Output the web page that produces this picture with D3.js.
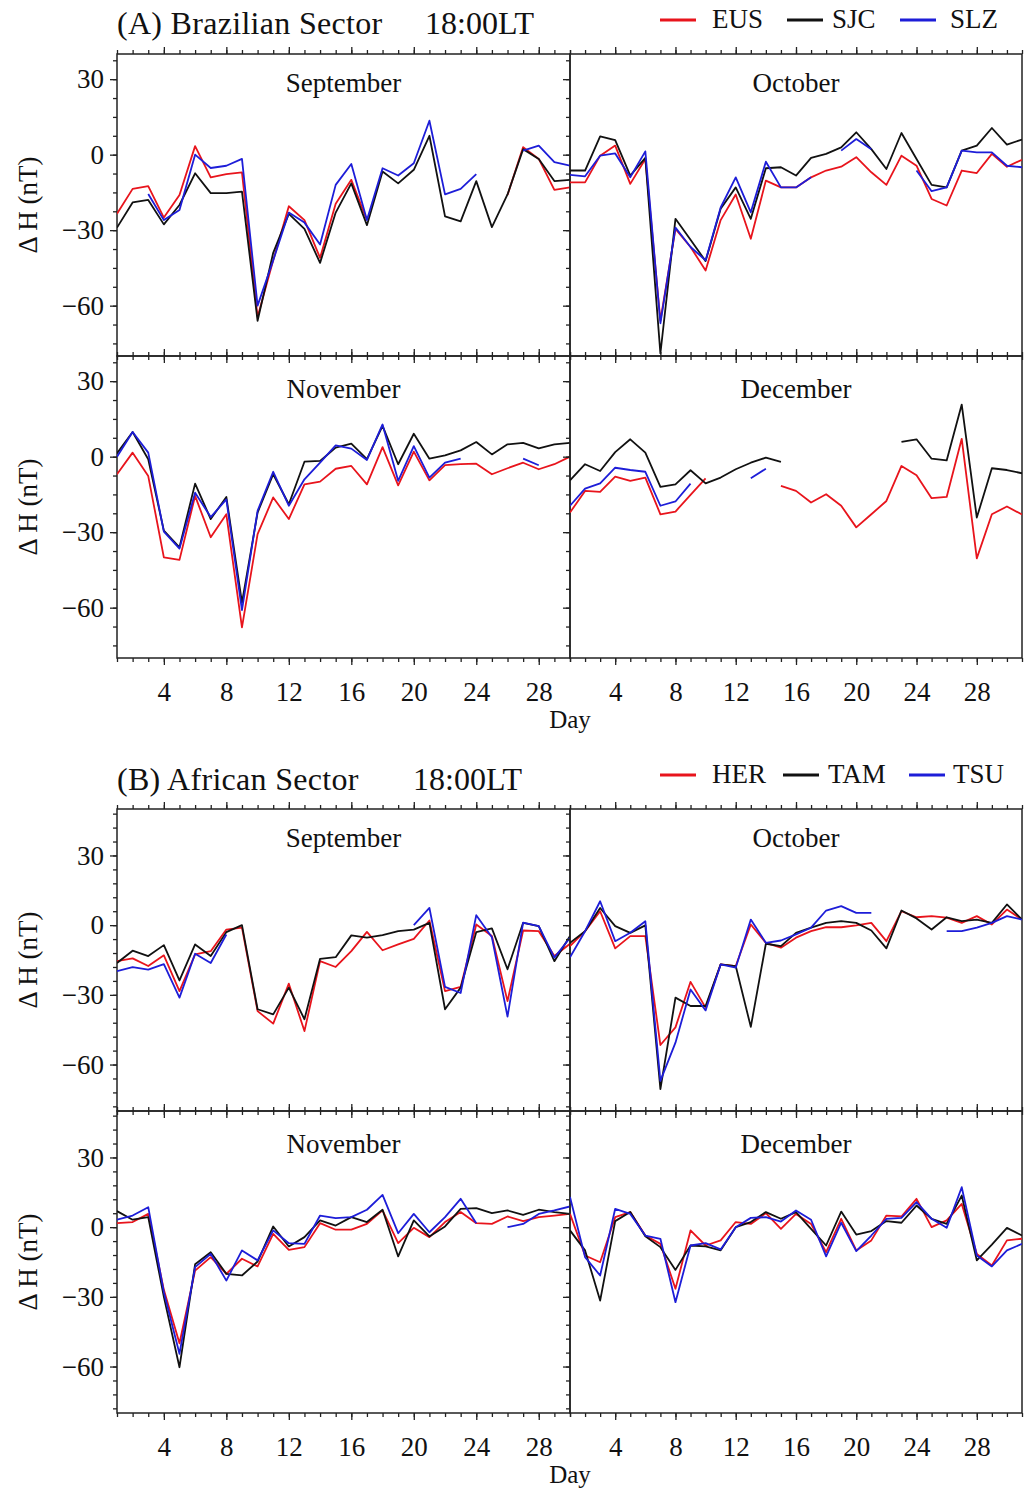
<!DOCTYPE html>
<html>
<head>
<meta charset="utf-8">
<script src="https://cdn.jsdelivr.net/npm/d3@7"></script>
<style>
  body { margin: 0; background: #fff; }
  svg text { font-family: 'Liberation Serif', 'Times New Roman', serif; fill: #111; }
</style>
</head>
<body>
<svg id="chart" width="1024" height="1492"></svg>
<script>
// ---- data (nT), one value per day, null = no data ----
// (A) Brazilian sector
const eusSep = [-23.5, -13.6, -12.5, -25, -16, 3.4, -9, -7.7, -7, -64.5, -42, -20.5, -26, -41, -19.5, -10, -26, null, null, null, null, null, null, null, null, -16, 3, -1.7, -14, -13]
const sjcSep = [-29, -19, -18, -27.7, -20, -7.4, -15.3, -15.3, -14.7, -66, -39, -23.5, -29.5, -43, -23, -11.4, -28, -6.7, -11.4, -6, 7.5, -24.5, -26.5, -10.5, -28.8, -15.8, 2.2, -1.7, -10.5, -10]
const slzSep = [null, null, -15.6, -26, -22, 0, -5.3, -4.4, -1.7, -60, -42, -23, -27, -35.7, -12, -3.7, -26, -5.4, -8.3, -3.4, 13.5, -15.8, -13.6, -7.7, null, null, 1.6, 3.6, -3, -4.4]

const eusOct = [-11, -11, -0.4, 3.6, -11.6, -1.7, -66, -29.5, -36.7, -46, -26, -15.8, -33.4, -10.3, -13, -13, -9, -6.3, -4.8, -1, -7, -12, -0.4, -4.4, -17.6, -20.2, -6.3, -7.3, 0.3, -4.8, -2]
const sjcOct = [-6.3, -6.3, 7.3, 5.8, -8.3, -1.3, -79, -25.5, -33.8, -42.3, -21.5, -13, -25.5, -5.4, -5, -8.3, -1.3, 0.3, 2.9, 8.9, 2.2, -5.7, 8.6, -1.7, -12, -13, 1.6, 3.6, 10.6, 4, 6]
const slzOct = [-8, -8.6, -0.4, 0.5, -9, 1.3, -67, -29, -36.7, -42, -21, -9, -22.9, -2.8, -13, -13, -9, null, 1.6, 6.2, 2.2, null, null, -6.3, -14.5, -13, 1.6, 0.9, 0.9, -4.4, -5]

const eusNov = [-7, 1.6, -7.7, -40, -41, -15.6, -32, -22.9, -67.8, -30.8, -16.2, -24.8, -11, -9.9, -4.8, -3.7, -11, 3.8, -11.4, 2, -9.4, -3.4, -3, -2.8, -7, -4.6, -2.4, -5, -3, 0]
const sjcNov = [1.3, 9.8, -1, -29.4, -36, -10.7, -24.8, -16, -58, -22.2, -7, -18.9, -2, -1.7, 3.6, 5.2, -1, 12.2, -3, 9.1, -0.8, 0.5, 2.5, 5.8, 0.9, 4.9, 5.5, 3.3, 4.9, 5.5]
const slzNov = [0, 9.8, 1.6, -29.8, -36.5, -14.3, -24, -17, -61, -21.5, -6, -19.5, -9, -2.4, 4.5, 3.2, -1.3, 12.8, -9.6, 4.2, -8.3, -2.4, -0.8, null, null, null, -0.8, -3.4, null, null]

const eusDec = [-22.2, -13.6, -14, -7.9, -9.6, -8.3, -22.9, -21.8, -15.2, -8.6, null, null, null, null, -11.6, -13.6, -18.2, -14.9, -19.5, -28.1, -22.9, -17.6, -3.7, -7.4, -16.5, -16, 7.1, -40.4, -22.9, -19.8, -23]
const sjcDec = [-9.4, -3, -5.7, 1.8, 6.9, 1.6, -12, -11, -5.4, -10.6, -8.3, -5, -2.4, -0.4, -2.1, null, null, null, null, null, null, null, 5.9, 6.9, -0.8, -1.5, 20.7, -24.2, -4.6, -5.3, -6.6]
const slzDec = [-19.5, -12.7, -10.6, -4.4, -5.3, -6, -19.5, -17.8, -10.7, null, null, null, -8.6, -4.8, null, null, null, null, null, null, null, null, null, null, null, null, null, null, null, null, null]

// (B) African sector
const herSep = [-15.5, -14.3, -17.6, -13, -28.4, -12.6, -11.2, -1.9, -1.1, -37, -42.4, -25.2, -45.6, -15.5, -18, -11.2, -2.9, -10.8, -8.3, -5.9, 2, -28.4, -26.6, 0.3, -4.7, -32.7, -2.3, -2.6, -13.3, -8]
const tamSep = [-16.3, -11, -13.3, -8.6, -23.8, -8.3, -13.3, -3, 0, -36.2, -38.4, -26.9, -40.5, -14.5, -13.8, -4.4, -5.4, -4.3, -2.6, -1.9, 1, -36.2, -26.9, -3, -1.4, -19, 1, -0.4, -15.5, -4.7]
const tsuSep = [-19.8, -18.1, -19.1, -16.8, -31.2, -12.3, -16.3, -4, null, null, null, null, null, null, null, null, null, null, null, 0, 7.4, -26.6, -29.2, 4.3, -5.2, -39.4, 1.1, -0.4, -14, -5.4]

const herOct = [-9, -2.6, 6, -10, -4.7, -4.7, -51.6, -44, -24.4, -35.5, -16.9, -17.6, 0.3, -7.6, -9.7, -5.4, -2.6, -0.9, -0.9, -0.1, 1, -6.9, 6, 3.4, 3.9, 3.2, 1, 3.9, 0.3, 6.7, 2.4]
const tamOct = [-7.6, -2.6, 7.4, -0.4, -3.3, -0.1, -70.6, -31.2, -34.8, -34.8, -16.9, -17.6, -43.8, -8, -9, -3.3, -1.1, 1, 1.7, 1, -2.3, -10, 6.3, 2.9, -1.9, 3.4, 1.7, 2.4, 1, 8.9, 2.4]
const tsuOct = [-13.8, -2.6, 10.3, -6.9, -3.3, 1.7, -67, -50.6, -27.7, -36.7, -16.9, -18.3, 2.4, -7.6, -6.6, -4, -1.1, 6.3, 8.2, 5.3, 5.3, null, null, null, null, -2.6, -2.6, -1.1, 1, 3.9, 2.4]

const herNov = [1.7, 2.2, 5.7, -27, -50, -18.7, -12.9, -20.1, -13.6, -16.9, -2.9, -9.8, -8.6, 1.7, -1.1, -1.1, 1.4, 7.2, -6.9, -0.3, -4.3, 2.2, 6.5, 1.7, 1.4, 4.6, 2.6, 4.3, 5, 5.7]
const tamNov = [6.9, 3.2, 4.3, -30, -60.3, -16, -10.8, -20.1, -20.8, -14.8, 0.3, -8.3, -4.3, 2.9, 0.7, 4.3, 2.2, 7.5, -12.6, 2.9, -4, 0.3, 7.9, 8.2, 6, 7.2, 5.3, 7.5, 6.5, 5.7]
const tsuNov = [3.2, 5, 8.6, -28, -54.5, -17.2, -11.5, -23, -10, -14.3, -1.4, -6.9, -7.2, 5, 3.9, 4.3, 7.5, 13.9, -2.6, 5.7, -2.2, 4.3, 12.2, 1.7, null, 0, 1.4, 5.7, 7.2, 8.9]

const herDec = [5.7, -12.2, -15.1, 4.3, 6.5, -3.6, -7.2, -26.5, -1.4, -7.9, -5.7, 2.2, 1.4, 6, -0.7, 5.7, 1.4, -10.8, 3.6, -10, -5.7, 5, 4.6, 12.2, 0, 2.9, 10, -11.5, -16.5, -5.7, -5]
const tamDec = [-1.4, -10, -31.6, 2.6, 6.5, -3.9, -8.6, -18.4, -7.9, -8.3, -10, 0, 2.2, 6.5, 3.6, 6.5, -0.7, -7.9, 6.7, -3.2, -1.7, 2.6, 1.9, 9.3, 3.6, 1.4, 13.6, -14.3, -7.5, -0.3, -3.6]
const tsuDec = [13, -12.9, -20.8, 7.9, 5.7, -3.6, -5, -32.3, -7.9, -6.9, -9.6, 0, 4, 4.3, 2.4, 7.2, 3.2, -12.6, 1.9, -10.3, -3.6, 3.6, 4, 10.8, 3.6, -0.3, 17.2, -12.2, -16.9, -10, -7.2]

const monthNames = ['September', 'October', 'November', 'December']
const dayTicks = [4, 8, 12, 16, 20, 24, 28]
const yTicks = [-60, -30, 0, 30]
const colors = ['#e8141c', '#111111', '#1d1dd8']

const sectors = [
  {
    title: '(A) Brazilian Sector', time: '18:00LT', stations: ['EUS', 'SJC', 'SLZ'],
    yDomain: [-80, 40], minorStep: 7.5,
    series: [[eusSep, sjcSep, slzSep], [eusOct, sjcOct, slzOct], [eusNov, sjcNov, slzNov], [eusDec, sjcDec, slzDec]]
  },
  {
    title: '(B) African Sector', time: '18:00LT', stations: ['HER', 'TAM', 'TSU'],
    yDomain: [-80, 50], minorStep: 6,
    series: [[herSep, tamSep, tsuSep], [herOct, tamOct, tsuOct], [herNov, tamNov, tsuNov], [herDec, tamDec, tsuDec]]
  }
]

// ---- layout ----
const svg = d3.select('#chart')
const cols = [[117, 570], [570, 1022]]
const layout = [
  { top: 54, mid: 356, bottom: 658, titleY: 34, legendY: 20, timeX: 425,
    legendX: [660, 787, 900], textX: [712, 832, 950] },
  { top: 809, mid: 1111, bottom: 1413, titleY: 790, legendY: 775, timeX: 413,
    legendX: [660, 783, 909], textX: [712, 828, 953] }
]

sectors.forEach((sec, si) => {
  const L = layout[si]
  const g = svg.append('g')

  g.append('text').attr('x', 117).attr('y', L.titleY)
    .attr('font-size', 32).attr('letter-spacing', 0.3).text(sec.title)
  g.append('text').attr('x', L.timeX).attr('y', L.titleY)
    .attr('font-size', 32).text(sec.time)

  // legend
  sec.stations.forEach((name, k) => {
    const lx = L.legendX[k]
    g.append('line')
      .attr('x1', lx).attr('x2', lx + 36)
      .attr('y1', L.legendY).attr('y2', L.legendY)
      .attr('stroke', colors[k]).attr('stroke-width', 3)
    g.append('text').attr('x', L.textX[k]).attr('y', L.legendY + 8)
      .attr('font-size', 27).text(name)
  })

  const rows = [[L.top, L.mid], [L.mid, L.bottom]]

  sec.series.forEach((trio, mi) => {
    const col = cols[mi % 2]
    const row = rows[Math.floor(mi / 2)]
    const nDays = trio[0].length
    const x = d3.scaleLinear().domain([1, nDays]).range(col)
    const y = d3.scaleLinear().domain(sec.yDomain).range([row[1], row[0]])
    const panel = g.append('g')
    const clipId = 'clip' + si + mi

    panel.append('clipPath').attr('id', clipId)
      .append('rect')
      .attr('x', col[0]).attr('y', row[0])
      .attr('width', col[1] - col[0]).attr('height', row[1] - row[0])

    // ticks: top and bottom (outward), left (outward)
    const minorDays = d3.range(1, nDays + 1)
    const minorY = d3.range(Math.ceil(sec.yDomain[0] / sec.minorStep) * sec.minorStep, sec.yDomain[1] + 0.01, sec.minorStep)

    const axes = [
      { gen: d3.axisTop(x), at: 'translate(0,' + row[0] + ')' },
      { gen: d3.axisBottom(x), at: 'translate(0,' + row[1] + ')' }
    ]
    axes.forEach(a => {
      panel.append('g').attr('transform', a.at)
        .call(a.gen.tickValues(minorDays).tickSize(4).tickFormat(''))
      panel.append('g').attr('transform', a.at)
        .call(a.gen.tickValues(dayTicks).tickSize(7).tickFormat(''))
    })
    panel.append('g').attr('transform', 'translate(' + col[0] + ',0)')
      .call(d3.axisLeft(y).tickValues(minorY).tickSize(4).tickFormat(''))
    const yMajor = panel.append('g').attr('transform', 'translate(' + col[0] + ',0)')
      .call(d3.axisLeft(y).tickValues(yTicks).tickSize(7).tickPadding(6)
        .tickFormat(mi % 2 === 0 ? d3.format('') : ''))
    yMajor.selectAll('text').attr('font-size', 27).attr('font-family', "'Liberation Serif', serif").attr('fill', '#111')

    if (mi >= 2) {
      const xl = panel.append('g').attr('transform', 'translate(0,' + row[1] + ')')
        .call(d3.axisBottom(x).tickValues(dayTicks).tickSize(0).tickPadding(24).tickFormat(d3.format('')))
      xl.selectAll('text').attr('font-size', 27).attr('font-family', "'Liberation Serif', serif").attr('fill', '#111')
      xl.select('.domain').remove()
    }

    panel.selectAll('.domain').attr('stroke', 'none')
    panel.selectAll('.tick line').attr('stroke', '#222').attr('stroke-width', 1.3)

    // border
    panel.append('rect')
      .attr('x', col[0]).attr('y', row[0])
      .attr('width', col[1] - col[0]).attr('height', row[1] - row[0])
      .attr('fill', 'none').attr('stroke', '#222').attr('stroke-width', 1.5)

    // month label
    panel.append('text')
      .attr('x', (col[0] + col[1]) / 2)
      .attr('y', row[0] + (mi < 2 ? 38 : 42))
      .attr('text-anchor', 'middle').attr('font-size', 27)
      .text(monthNames[mi])

    // series
    const line = d3.line()
      .defined(d => d !== null)
      .x((d, i) => x(i + 1))
      .y(d => y(d))
    trio.forEach((vals, k) => {
      panel.append('path')
        .datum(vals)
        .attr('clip-path', 'url(#' + clipId + ')')
        .attr('fill', 'none')
        .attr('stroke', colors[k])
        .attr('stroke-width', 1.8)
        .attr('stroke-linejoin', 'round')
        .attr('d', line)
    })

    // y label on left column
    if (mi % 2 === 0) {
      panel.append('text')
        .attr('transform', 'translate(37,' + (row[0] + row[1]) / 2 + ') rotate(-90)')
        .attr('text-anchor', 'middle').attr('font-size', 27)
        .text('Δ H (nT)')
    }
  })

  g.append('text').attr('x', 570).attr('y', L.bottom + 70)
    .attr('text-anchor', 'middle').attr('font-size', 25).text('Day')
})
</script>
</body>
</html>
